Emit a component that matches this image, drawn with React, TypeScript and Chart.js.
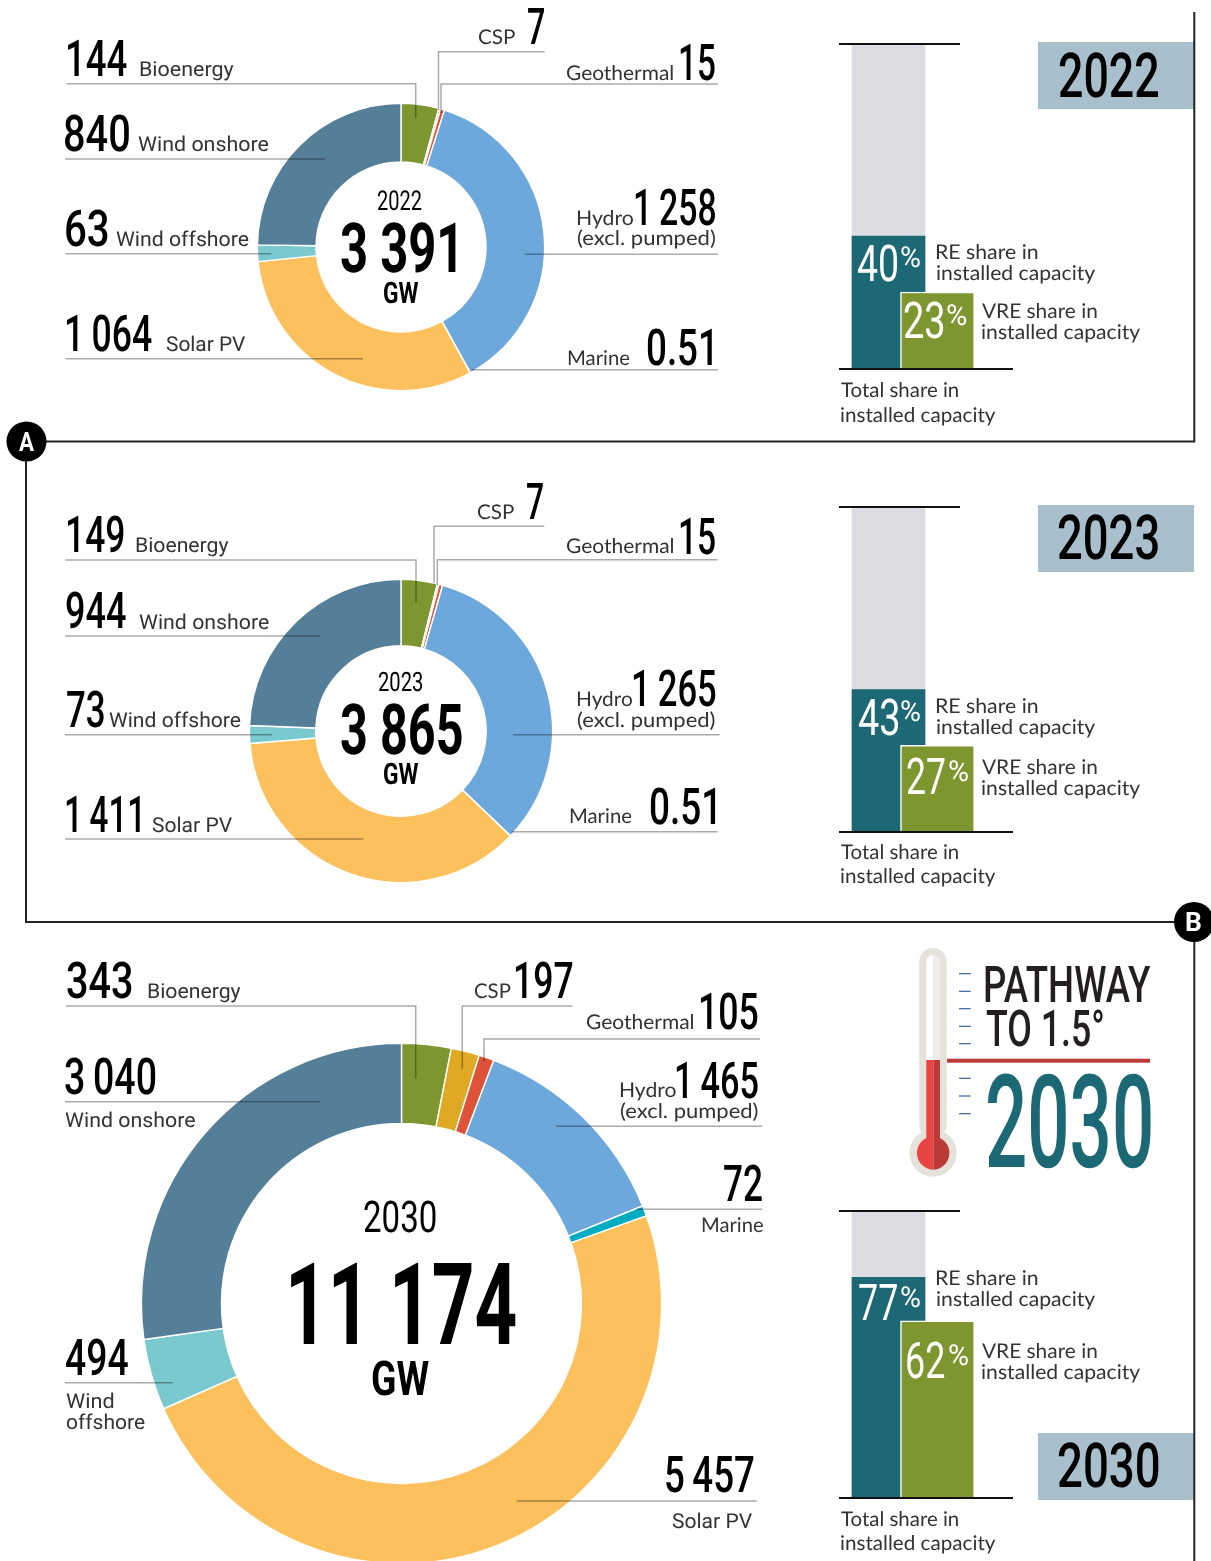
import React, { useEffect, useRef } from "react";
import { Chart, registerables } from "chart.js";

Chart.register(...registerables);

const sourceNames = ["Bioenergy", "CSP", "Geothermal", "Hydro", "Marine", "Solar PV", "Wind offshore", "Wind onshore"];
const capacity2022 = [144, 7, 15, 1258, 0.51, 1064, 63, 840];
const capacity2023 = [149, 7, 15, 1265, 0.51, 1411, 73, 944];
const capacity2030 = [343, 197, 105, 1465, 72, 5457, 494, 3040];
const years = ["2022", "2023", "2030"];
const reLabels = [40, 43, 77];
const vreLabels = [23, 27, 62];
// bar heights, in % of the full column
const reBars = [40.9, 43.8, 76.9];
const vreBars = [23.7, 26.7, 61.7];
const fullBar = 100;

const sliceColors = ["#7E962F", "#E0A924", "#DE5338", "#6CA8DB", "#00ACC1", "#FCC15C", "#7AC9CE", "#557F99"];

const FONT: Record<string, [string, string]> = {
  num: ["500", "Roboto"],
  heavy: ["700", "Roboto"],
  thin: ["400", "Roboto"],
  din: ["400", "Roboto"],
  got: ["400", "Lato"],
};

const fmt = (v: number) => {
  const s = String(v);
  if (s.includes(".") || s.length < 4) return s;
  return s.slice(0, -3) + "\u2009" + s.slice(-3);
};

const mcanvas = document.createElement("canvas");
const mctx = mcanvas.getContext("2d", { willReadFrequently: true }) as any;

// ink extent of a string at 100px, found by scanning its rendered pixels
function ink100(t: string, w: string, fam: string) {
  mcanvas.width = 100 * (t.length + 2);
  mcanvas.height = 200;
  mctx.textRendering = "geometricPrecision";
  mctx.font = `${w} 100px ${fam}`;
  mctx.fillStyle = "#000";
  mctx.textBaseline = "alphabetic";
  mctx.fillText(t, 50, 150);
  const { data, width, height } = mctx.getImageData(0, 0, mcanvas.width, mcanvas.height);
  let lo = width;
  let hi = 0;
  let up = height;
  for (let y = 0; y < height; y++) {
    for (let x = 0; x < width; x++) {
      if (data[(y * width + x) * 4 + 3] > 110) {
        if (x < lo) lo = x;
        if (x + 1 > hi) hi = x + 1;
        if (y < up) up = y;
      }
    }
  }
  return { left: lo - 50, right: hi - 50, top: 150 - up };
}

function T({ t, x0, x1, b, h, f = "num", c = "#000" }: any) {
  const [w, fam] = FONT[f];
  const cap = ink100("H", w, fam).top;
  const size = (h / cap) * 100;
  const ink = ink100(t, w, fam);
  const k = size / 100;
  const s = (x1 - x0) / ((ink.right - ink.left) * k);
  mctx.font = `${w} ${size}px ${fam}`;
  const m = mctx.measureText("H");
  const asc = m.fontBoundingBoxAscent;
  const desc = m.fontBoundingBoxDescent;
  return (
    <span
      style={{
        position: "absolute",
        left: x0 - ink.left * k * s,
        top: b - asc,
        font: `${w} ${size}px ${fam}`,
        lineHeight: `${asc + desc}px`,
        whiteSpace: "pre",
        transform: `scaleX(${s})`,
        transformOrigin: "0 0",
        textRendering: "geometricPrecision",
        color: c,
      }}
    >
      {t}
    </span>
  );
}

const LBL = "#333";
const L = (p: any) => <T h={14.6} f="din" c={LBL} {...p} />;
const G = (p: any) => <T h={14.6} f="got" c={LBL} {...p} />;
const N = (p: any) => <T h={36} f="num" {...p} />;

function Donut({ values, cx, cy, r, inner }: any) {
  const ref = useRef<HTMLCanvasElement>(null);
  const size = Math.ceil(r * 2 + 6);
  useEffect(() => {
    const chart = new Chart(ref.current as HTMLCanvasElement, {
      type: "doughnut",
      data: {
        labels: sourceNames,
        datasets: [{ data: values, backgroundColor: sliceColors, borderColor: "#fff", borderWidth: 1.4 }],
      },
      options: {
        animation: false,
        responsive: false,
        radius: r + 0.6,
        cutout: `${((inner - 0.5) / (r + 0.6)) * 100}%`,
        plugins: { legend: { display: false }, tooltip: { enabled: false } },
      },
    } as any);
    return () => chart.destroy();
  }, []);
  return (
    <canvas
      ref={ref}
      width={size}
      height={size}
      style={{ position: "absolute", left: cx - size / 2, top: cy - size / 2, width: size, height: size }}
    />
  );
}

function Shares({ idx, top, bottom }: any) {
  const ref = useRef<HTMLCanvasElement>(null);
  const width = 175;
  const height = Math.round(bottom - top);
  useEffect(() => {
    const chart = new Chart(ref.current as HTMLCanvasElement, {
      type: "bar",
      data: {
        labels: ["RE", "VRE"],
        datasets: [
          {
            data: [null, vreBars[idx]],
            backgroundColor: "#7E962F",
            borderColor: "#fff",
            borderWidth: { left: 1.5, top: 1.5, right: 0, bottom: 0 },
            borderSkipped: false,
            barThickness: 73,
            grouped: false,
            clip: false,
          },
          { data: [reBars[idx], null], backgroundColor: "#1C6875", barThickness: 73, grouped: false, clip: false },
          { data: [fullBar, null], backgroundColor: "#DCDCE3", barThickness: 73, grouped: false, clip: false },
        ],
      },
      options: {
        animation: false,
        responsive: false,
        layout: { padding: { left: 24.25, right: 53.75, top: 0, bottom: 0 } },
        scales: {
          x: { display: false },
          y: { display: false, min: 0, max: fullBar },
        },
        plugins: { legend: { display: false }, tooltip: { enabled: false } },
      },
    } as any);
    return () => chart.destroy();
  }, []);
  return (
    <canvas
      ref={ref}
      width={width}
      height={height}
      style={{ position: "absolute", left: 840, top, width, height }}
    />
  );
}

const leaders: string[] = [
  // 2022
  "M66.5 83.7H415.7V118",
  "M544.7 51.7H438.5V110",
  "M718 84H441V113",
  "M65 159H325",
  "M65.5 253.7H271.4",
  "M65.5 358.7H363",
  "M525 254.3H718",
  "M471.6 369.7H718",
  // 2023
  "M65.7 560H416V602.7",
  "M544.3 526.3H434V583",
  "M717.7 559.7H437.3V585",
  "M65 636H320",
  "M65 734.7H271.7",
  "M65 839H363.3",
  "M513.3 734.7H719.7",
  "M511.7 831.7H717.7",
  // 2030
  "M66 1006H415.7V1078.3",
  "M572.7 1006H462.3V1069.3",
  "M760 1039H484V1061.7",
  "M65 1101.7H320",
  "M65 1382.7H172.7",
  "M516.7 1501H756.7",
  "M556 1126.3H762.3",
  "M636.7 1209.3H762.3",
];

function rect(x: number, y: number, w: number, h: number, bg: string) {
  return <div style={{ position: "absolute", left: x, top: y, width: w, height: h, background: bg }} />;
}

function Panel({ i, pct1, pct2, re, vre, tot, top, bottom }: any) {
  return (
    <>
      <Shares idx={i} top={top} bottom={bottom} />
      {rect(839.3, top - 1, 120.7, 2, "#111")}
      {rect(839.3, bottom - 1, 173.4, 2, "#111")}
      <N t={String(reLabels[i])} {...pct1[0]} c="#fff" f="thin" />
      <T t="%" {...pct1[1]} h={20.5} f="thin" c="#fff" />
      <N t={String(vreLabels[i])} {...pct2[0]} c="#fff" f="thin" />
      <T t="%" {...pct2[1]} h={20.5} f="thin" c="#fff" />
      <G t="RE share in" x0={937.3} x1={1037.7} b={re} />
      <G t="installed capacity" x0={937.3} x1={1095} b={re + 21} />
      <G t="VRE share in" x0={982.3} x1={1096.7} b={vre} />
      <G t="installed capacity" x0={982.3} x1={1140} b={vre + 21} />
      <G t="Total share in" x0={841} x1={957.7} b={tot} />
      <G t="installed capacity" x0={841} x1={995} b={tot + 24.3} />
    </>
  );
}

export default function App() {
  useEffect(() => {
    document.body.style.margin = "0";
    document.documentElement.style.background = "#fff";
  }, []);
  return (
    <div style={{ position: "relative", width: 1211, height: 1561, overflow: "hidden", background: "#fff" }}>
      <Donut values={capacity2022} cx={401} cy={247} r={143} inner={85.5} />
      <Donut values={capacity2023} cx={401} cy={730.7} r={151} inner={85.7} />
      <Donut values={capacity2030} cx={401} cy={1303} r={259.5} inner={180.5} />

      {rect(1038, 42, 156, 67, "#A9C0CC")}
      {rect(1038, 505, 156, 66.7, "#A9C0CC")}
      {rect(1038, 1433.3, 156, 66.7, "#A9C0CC")}

      <Panel
        i={0}
        top={44}
        bottom={369}
        re={259.3}
        vre={318.3}
        tot={397.3}
        pct1={[{ x0: 858.3, x1: 897.3, b: 280.7 }, { x0: 901, x1: 919.3, b: 266.5 }]}
        pct2={[{ x0: 905, x1: 943.3, b: 338 }, { x0: 947.3, x1: 966, b: 325 }]}
      />
      <Panel
        i={1}
        top={507}
        bottom={831.5}
        re={713.3}
        vre={774}
        tot={859}
        pct1={[{ x0: 859.3, x1: 898.3, b: 734.7 }, { x0: 901, x1: 919.3, b: 720.7 }]}
        pct2={[{ x0: 907.7, x1: 944.3, b: 794.3 }, { x0: 949.3, x1: 967.7, b: 781 }]}
      />
      <Panel
        i={2}
        top={1211}
        bottom={1498}
        re={1285}
        vre={1357.7}
        tot={1526}
        pct1={[{ x0: 859.3, x1: 896.7, b: 1320.3 }, { x0: 901, x1: 919.3, b: 1307.3 }]}
        pct2={[{ x0: 907.3, x1: 944.3, b: 1378.3 }, { x0: 949.3, x1: 967.7, b: 1365 }]}
      />

      <svg
        width={1211}
        height={1561}
        style={{ position: "absolute", left: 0, top: 0, mixBlendMode: "multiply" }}
      >
        {leaders.map((d, k) => (
          <path key={k} d={d} fill="none" stroke="#ababab" strokeWidth={1.5} />
        ))}
      </svg>

      <svg width={1211} height={1561} style={{ position: "absolute", left: 0, top: 0 }}>
        <path d="M1194.3 12V441.5H26V922H1194.3V1561" fill="none" stroke="#222" strokeWidth={2} />
        <circle cx={26.5} cy={441.5} r={20} fill="#000" />
        <circle cx={1194} cy={922} r={20} fill="#000" />
        {/* thermometer */}
        <rect x={919.3} y={948} width={27.4} height={190} rx={13.7} fill="#E5E1DB" />
        <circle cx={933} cy={1153} r={23.7} fill="#E5E1DB" />
        <path d="M926.3 1060V962a6.8 6.8 0 0 1 6.8 -7V1060Z" fill="#fff" />
        <path d="M933.1 1060V955a6.8 6.8 0 0 1 6.9 7V1060Z" fill="#EFEDEB" />
        <path d="M926.3 1060H933.7V1169.7A16.7 16.7 0 0 1 926.3 1138Z" fill="#E94445" />
        <path d="M933.7 1060H940V1138A16.7 16.7 0 0 1 933.7 1169.7Z" fill="#B93A36" />
        {[973.7, 991.3, 1008.7, 1026.3, 1043.7, 1078.3, 1096, 1113.7].map((y) => (
          <rect key={y} x={959} y={y - 0.6} width={11.7} height={1.2} fill="#3E5F9E" />
        ))}
        <rect x={947} y={1058.7} width={203} height={4} fill="#BC3A38" />
      </svg>

      <T t="A" x0={19} x1={34} b={451} h={19} f="heavy" c="#fff" />
      <T t="B" x0={1187} x1={1201} b={931} h={19} f="heavy" c="#fff" />

      {/* 2022 */}
      <T t={fmt(capacity2022[1])} x0={527.5} x1={543.7} b={44} h={36} f="num" />
      <G t={sourceNames[1]} x0={478.6} x1={514.4} b={44} />
      <N t={fmt(capacity2022[2])} x0={681} x1={715} b={79.5} />
      <G t={sourceNames[2]} x0={567} x1={672.7} b={80} />
      <N t={fmt(capacity2022[0])} x0={68} x1={126.6} b={75.5} />
      <L t={sourceNames[0]} x0={141} x1={233.7} b={75.7} />
      <N t={fmt(capacity2022[7])} x0={65} x1={129} b={151} />
      <L t={sourceNames[7]} x0={139} x1={268.6} b={151} />
      <N t={fmt(capacity2022[6])} x0={66} x1={107} b={246} />
      <L t={sourceNames[6]} x0={116.4} x1={248} b={246} />
      <N t={fmt(capacity2022[5])} x0={66.6} x1={151} b={351} />
      <L t={sourceNames[5]} x0={166.7} x1={245} b={351} />
      <N t={fmt(capacity2022[3])} x0={635.5} x1={715} b={225} />
      <G t="Hydro" x0={578} x1={633} b={225} />
      <G t="(excl. pumped)" x0={578} x1={715} b={245.3} />
      <G t={sourceNames[4]} x0={569} x1={629.4} b={365} />
      <N t={fmt(capacity2022[4])} x0={648} x1={712} b={365} />
      <T t={years[0]} x0={378.5} x1={421.8} b={210} h={19.5} f="thin" />
      <T t={"3 391"} x0={341} x1={455} b={272} h={49} f="heavy" />
      <T t="GW" x0={384} x1={418} b={303} h={21} f="heavy" />
      <T t={years[0]} x0={1059.3} x1={1157.7} b={96.7} h={44} />

      {/* 2023 */}
      <T t={fmt(capacity2023[1])} x0={527.3} x1={543.3} b={519} h={36} f="num" />
      <G t={sourceNames[1]} x0={478.3} x1={514} b={519} />
      <N t={fmt(capacity2023[2])} x0={680.7} x1={715} b={553.5} />
      <G t={sourceNames[2]} x0={566.7} x1={672.7} b={553.3} />
      <N t={fmt(capacity2023[0])} x0={68.3} x1={124} b={552} />
      <L t={sourceNames[0]} x0={136.7} x1={228.3} b={552} />
      <N t={fmt(capacity2023[7])} x0={66} x1={125} b={628} />
      <L t={sourceNames[7]} x0={139.3} x1={268.3} b={628.7} />
      <N t={fmt(capacity2023[6])} x0={66.7} x1={103.3} b={726.7} />
      <L t={sourceNames[6]} x0={110} x1={240.7} b={726.7} />
      <N t={fmt(capacity2023[5])} x0={66.7} x1={140} b={832} />
      <L t={sourceNames[5]} x0={153.3} x1={232.3} b={832} />
      <N t={fmt(capacity2023[3])} x0={633.3} x1={715} b={706} />
      <G t="Hydro" x0={578.3} x1={632.3} b={706} />
      <G t="(excl. pumped)" x0={578.3} x1={715} b={726.7} />
      <G t={sourceNames[4]} x0={571} x1={631.3} b={823.3} />
      <N t={fmt(capacity2023[4])} x0={650.7} x1={715} b={823.5} />
      <T t={years[1]} x0={379} x1={422} b={691} h={19} f="thin" />
      <T t={"3 865"} x0={341} x1={461} b={754} h={50} f="heavy" />
      <T t="GW" x0={384} x1={418} b={784} h={21} f="heavy" />
      <T t={years[1]} x0={1059.3} x1={1158.3} b={559.3} h={44} />

      {/* 2030 */}
      <N t={fmt(capacity2030[0])} x0={67.3} x1={131} b={998.3} />
      <L t={sourceNames[0]} x0={148.3} x1={240} b={998.3} />
      <G t={sourceNames[1]} x0={475} x1={510.3} b={998.3} />
      <N t={fmt(capacity2030[1])} x0={516} x1={572.3} b={998.3} />
      <G t={sourceNames[2]} x0={586.7} x1={692.7} b={1029} />
      <N t={fmt(capacity2030[2])} x0={701} x1={757.7} b={1029} />
      <N t={fmt(capacity2030[3])} x0={676.7} x1={757.7} b={1097.7} />
      <G t="Hydro" x0={621} x1={675.7} b={1096.7} />
      <G t="(excl. pumped)" x0={621} x1={757.7} b={1118.3} />
      <N t={fmt(capacity2030[4])} x0={724} x1={761.7} b={1201} />
      <G t={sourceNames[4]} x0={702.7} x1={762.7} b={1231.7} />
      <N t={fmt(capacity2030[7])} x0={66} x1={155.7} b={1094} />
      <L t={sourceNames[7]} x0={66} x1={195.3} b={1126.7} />
      <N t={fmt(capacity2030[6])} x0={65.7} x1={127.3} b={1375} />
      <L t="Wind" x0={66.7} x1={113.3} b={1407.7} />
      <L t="offshore" x0={66.7} x1={144.3} b={1429} />
      <N t={fmt(capacity2030[5])} x0={666.7} x1={754} b={1491.7} />
      <L t={sourceNames[5]} x0={673.3} x1={752.3} b={1527.7} />
      <T t={years[2]} x0={365} x1={435.7} b={1232} h={31} f="thin" />
      <T t={"11 174"} x0={290.7} x1={515} b={1344} h={81} f="heavy" />
      <T t="GW" x0={373.3} x1={429} b={1395} h={34} f="heavy" />
      <T t={years[2]} x0={1059.3} x1={1158.7} b={1487.3} h={44} />

      <T t="PATHWAY" x0={985.3} x1={1149.7} b={1001.7} h={36} f="num" c="#231F20" />
      <T t={"TO 1.5°"} x0={986.3} x1={1102.3} b={1046.3} h={36} f="num" c="#231F20" />
      <T t={years[2]} x0={987.7} x1={1150} b={1167} h={92} f="num" c="#1C6875" />
    </div>
  );
}
